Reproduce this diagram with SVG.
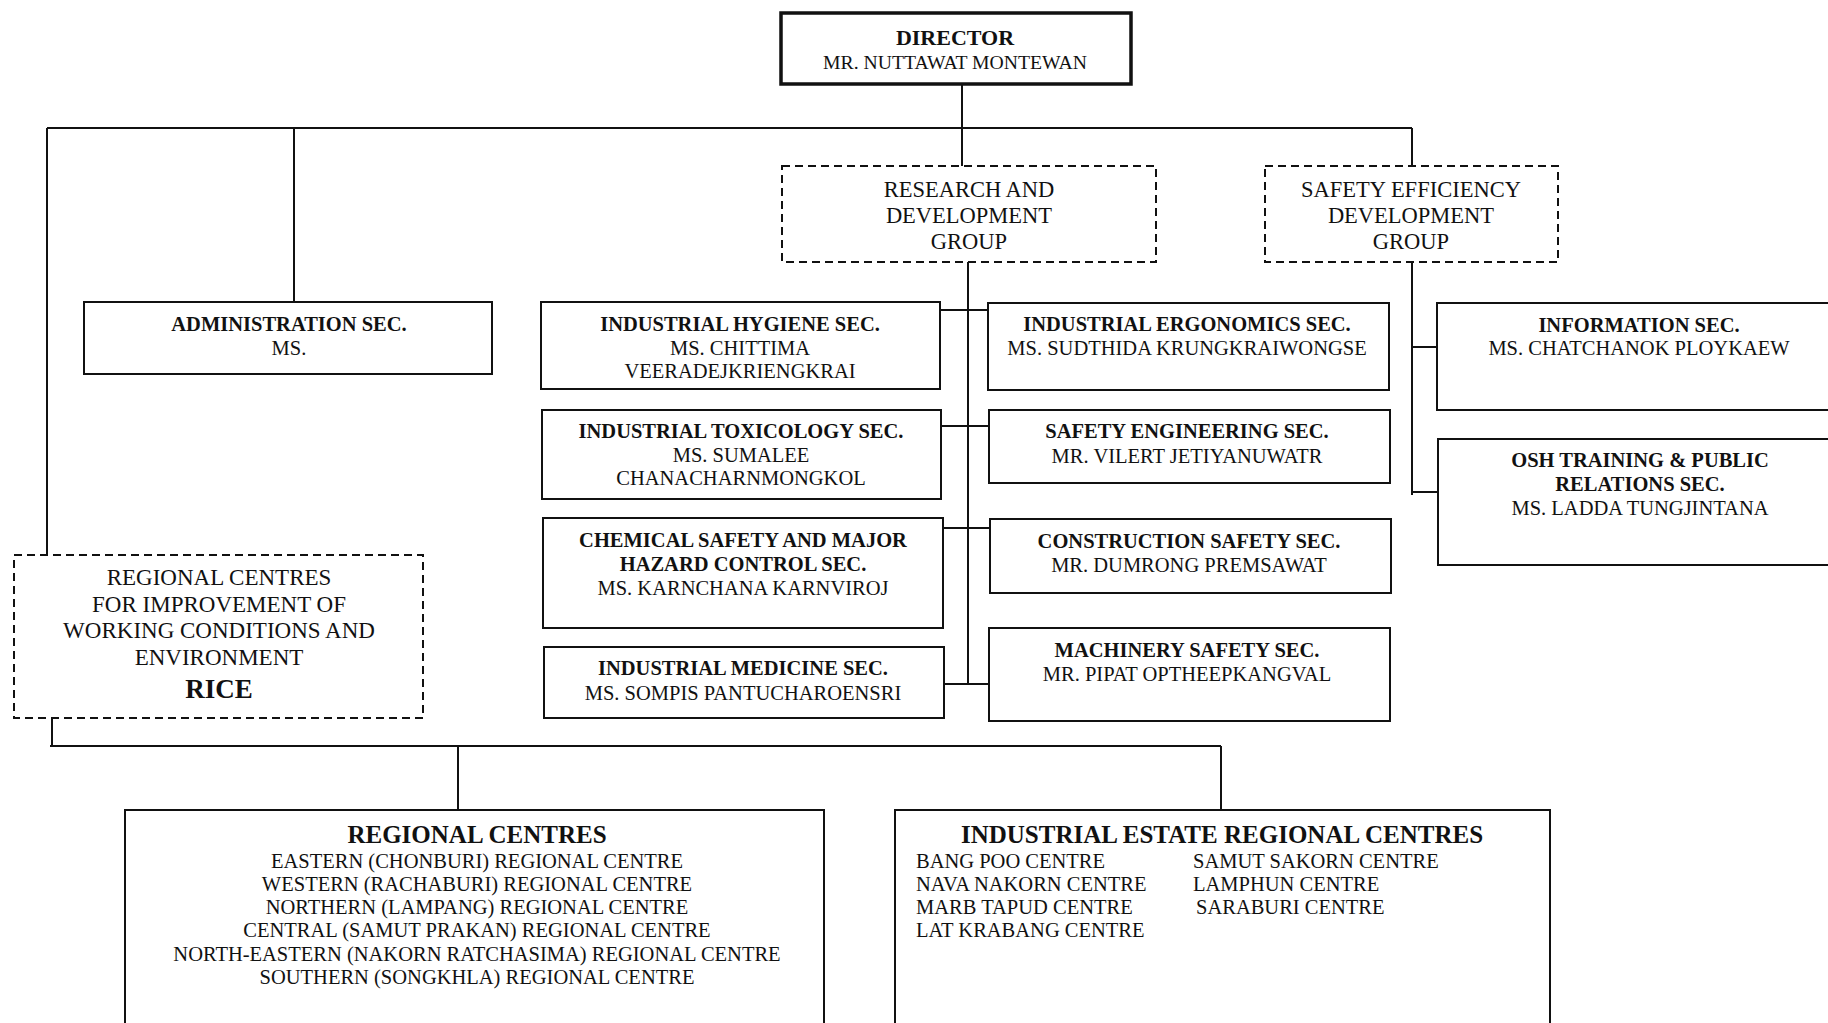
<svg xmlns="http://www.w3.org/2000/svg" width="1828" height="1023" viewBox="0 0 1828 1023">
<style>
.box{fill:#fff;stroke:#111;stroke-width:2}
.thick{fill:#fff;stroke:#111;stroke-width:3.5}
.dbox{fill:#fff;stroke:#111;stroke-width:2;stroke-dasharray:8 5}
.ln{stroke:#111;stroke-width:2;fill:none}
text{font-family:"Liberation Serif","Times New Roman",serif;fill:#111}
.b{font-weight:bold;font-size:20.5px;text-anchor:middle}
.r{font-size:20.5px;text-anchor:middle}
.g{font-size:22.5px;text-anchor:middle}
.t{font-weight:bold;font-size:25px;text-anchor:middle}
.l{font-size:20.5px;text-anchor:start}
</style>
<rect width="1828" height="1023" fill="#fff"/>
<g id="connectors">
<path class="ln" d="M962,84V166"/>
<path class="ln" d="M47,128H1412"/>
<path class="ln" d="M294,128V302"/>
<path class="ln" d="M47,128V555"/>
<path class="ln" d="M1412,128V166"/>
<path class="ln" d="M968,262V684"/>
<path class="ln" d="M940,310H988"/>
<path class="ln" d="M941,426H989"/>
<path class="ln" d="M943,528H990"/>
<path class="ln" d="M944,684H989"/>
<path class="ln" d="M1412,262V495"/>
<path class="ln" d="M1412,347H1437"/>
<path class="ln" d="M1412,492H1438"/>
<path class="ln" d="M52,718V746"/>
<path class="ln" d="M50,746H1221"/>
<path class="ln" d="M458,746V810"/>
<path class="ln" d="M1221,746V810"/>
</g>
<g id="director">
<rect class="thick" x="781" y="13" width="350" height="71"/>
<text class="b" x="955" y="45" style="font-size:22px">DIRECTOR</text>
<text class="r" x="955" y="69" style="font-size:19.7px">MR. NUTTAWAT MONTEWAN</text>
</g>
<g id="rd-group">
<rect class="dbox" x="782" y="166" width="374" height="96"/>
<text class="g" x="969" y="197">RESEARCH AND</text>
<text class="g" x="969" y="223">DEVELOPMENT</text>
<text class="g" x="969" y="249">GROUP</text>
</g>
<g id="sed-group">
<rect class="dbox" x="1265" y="166" width="293" height="96"/>
<text class="g" x="1411" y="197">SAFETY EFFICIENCY</text>
<text class="g" x="1411" y="223">DEVELOPMENT</text>
<text class="g" x="1411" y="249">GROUP</text>
</g>
<g id="admin">
<rect class="box" x="84" y="302" width="408" height="72"/>
<text class="b" x="289" y="331">ADMINISTRATION SEC.</text>
<text class="r" x="289" y="355">MS.</text>
</g>
<g id="hygiene">
<rect class="box" x="541" y="302" width="399" height="87"/>
<text class="b" x="740" y="331">INDUSTRIAL HYGIENE SEC.</text>
<text class="r" x="740" y="355">MS. CHITTIMA</text>
<text class="r" x="740" y="378">VEERADEJKRIENGKRAI</text>
</g>
<g id="ergonomics">
<rect class="box" x="988" y="303" width="401" height="87"/>
<text class="b" x="1187" y="331">INDUSTRIAL ERGONOMICS SEC.</text>
<text class="r" x="1187" y="355">MS. SUDTHIDA KRUNGKRAIWONGSE</text>
</g>
<g id="information">
<rect class="box" x="1437" y="303" width="410" height="107"/>
<text class="b" x="1639" y="332">INFORMATION SEC.</text>
<text class="r" x="1639" y="355">MS. CHATCHANOK PLOYKAEW</text>
</g>
<g id="toxicology">
<rect class="box" x="542" y="410" width="399" height="89"/>
<text class="b" x="741" y="438">INDUSTRIAL TOXICOLOGY SEC.</text>
<text class="r" x="741" y="462">MS. SUMALEE</text>
<text class="r" x="741" y="485">CHANACHARNMONGKOL</text>
</g>
<g id="safety-engineering">
<rect class="box" x="989" y="410" width="401" height="73"/>
<text class="b" x="1187" y="438">SAFETY ENGINEERING SEC.</text>
<text class="r" x="1187" y="463">MR. VILERT JETIYANUWATR</text>
</g>
<g id="osh-training">
<rect class="box" x="1438" y="439" width="410" height="126"/>
<text class="b" x="1640" y="467">OSH TRAINING &amp; PUBLIC</text>
<text class="b" x="1640" y="491">RELATIONS SEC.</text>
<text class="r" x="1640" y="515">MS. LADDA TUNGJINTANA</text>
</g>
<g id="chemical">
<rect class="box" x="543" y="518" width="400" height="110"/>
<text class="b" x="743" y="547">CHEMICAL SAFETY AND MAJOR</text>
<text class="b" x="743" y="571">HAZARD CONTROL SEC.</text>
<text class="r" x="743" y="595">MS. KARNCHANA KARNVIROJ</text>
</g>
<g id="construction">
<rect class="box" x="990" y="519" width="401" height="74"/>
<text class="b" x="1189" y="548">CONSTRUCTION SAFETY SEC.</text>
<text class="r" x="1189" y="572">MR. DUMRONG PREMSAWAT</text>
</g>
<g id="rice">
<rect class="dbox" x="14" y="555" width="409" height="163"/>
<text class="g" x="219" y="585" style="font-size:23px">REGIONAL CENTRES</text>
<text class="g" x="219" y="612" style="font-size:23px">FOR IMPROVEMENT OF</text>
<text class="g" x="219" y="638" style="font-size:23px">WORKING CONDITIONS AND</text>
<text class="g" x="219" y="665" style="font-size:23px">ENVIRONMENT</text>
<text class="g" x="219" y="698" style="font-size:27px;font-weight:bold">RICE</text>
</g>
<g id="medicine">
<rect class="box" x="544" y="647" width="400" height="71"/>
<text class="b" x="743" y="675">INDUSTRIAL MEDICINE SEC.</text>
<text class="r" x="743" y="700">MS. SOMPIS PANTUCHAROENSRI</text>
</g>
<g id="machinery">
<rect class="box" x="989" y="628" width="401" height="93"/>
<text class="b" x="1187" y="657">MACHINERY SAFETY SEC.</text>
<text class="r" x="1187" y="681">MR. PIPAT OPTHEEPKANGVAL</text>
</g>
<g id="regional-centres">
<rect class="box" x="125" y="810" width="699" height="240"/>
<text class="t" x="477" y="843">REGIONAL CENTRES</text>
<text class="r" x="477" y="868">EASTERN (CHONBURI) REGIONAL CENTRE</text>
<text class="r" x="477" y="891">WESTERN (RACHABURI) REGIONAL CENTRE</text>
<text class="r" x="477" y="914">NORTHERN (LAMPANG) REGIONAL CENTRE</text>
<text class="r" x="477" y="937">CENTRAL (SAMUT PRAKAN) REGIONAL CENTRE</text>
<text class="r" x="477" y="961">NORTH-EASTERN (NAKORN RATCHASIMA) REGIONAL CENTRE</text>
<text class="r" x="477" y="984">SOUTHERN (SONGKHLA) REGIONAL CENTRE</text>
</g>
<g id="industrial-estate-centres">
<rect class="box" x="895" y="810" width="655" height="240"/>
<text class="t" x="1222" y="843">INDUSTRIAL ESTATE REGIONAL CENTRES</text>
<text class="l" x="916" y="868">BANG POO CENTRE</text>
<text class="l" x="916" y="891">NAVA NAKORN CENTRE</text>
<text class="l" x="916" y="914">MARB TAPUD CENTRE</text>
<text class="l" x="916" y="937">LAT KRABANG CENTRE</text>
<text class="l" x="1193" y="868">SAMUT SAKORN CENTRE</text>
<text class="l" x="1193" y="891">LAMPHUN CENTRE</text>
<text class="l" x="1196" y="914">SARABURI CENTRE</text>
</g>
</svg>
